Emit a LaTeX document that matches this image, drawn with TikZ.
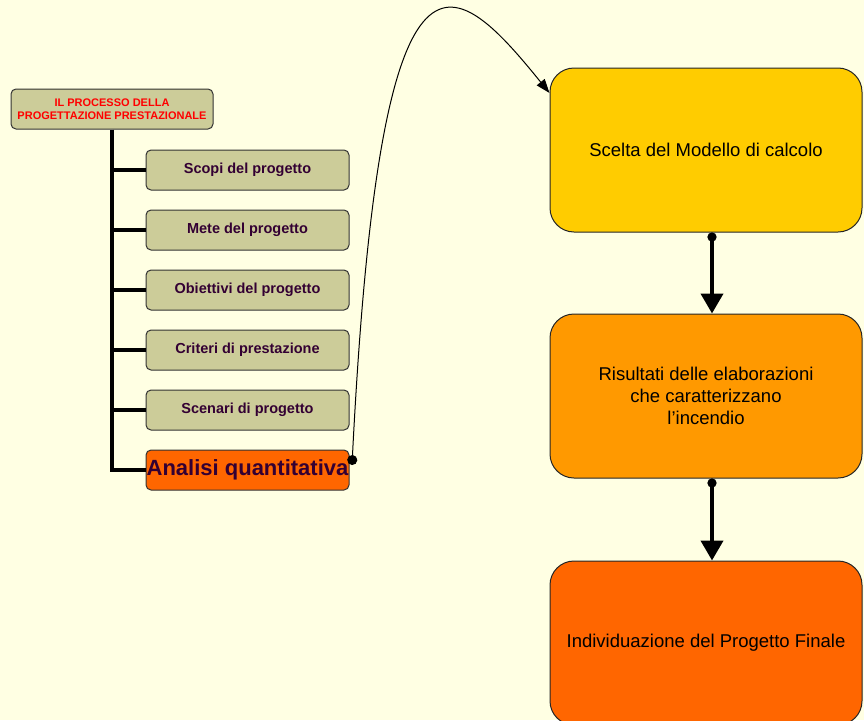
\documentclass[tikz,border=0pt]{standalone}
\usepackage{fontspec}
\setmainfont{Liberation Sans}
\usetikzlibrary{arrows.meta}

\definecolor{fondo}{HTML}{FFFFE3}
\definecolor{kaki}{HTML}{CCCC99}
\definecolor{viola}{HTML}{330033}
\definecolor{giallo}{HTML}{FFCC00}
\definecolor{arancio}{HTML}{FF9900}
\definecolor{rosso}{HTML}{FF6600}

\tikzset{
  voce/.style={draw=black!80, line width=1pt, rounded corners=5pt, fill=kaki,
    minimum width=203pt, minimum height=40pt, inner sep=0pt,
    font=\fontsize{14.5}{16}\selectfont\bfseries, text=viola},
  fase/.style={draw=black!85, line width=1pt, rounded corners=24pt,
    minimum width=312pt, minimum height=164pt, align=center,
    font=\fontsize{18.5}{22}\selectfont},
  ramo/.style={line width=4pt},
  freccia/.style={line width=4pt, {Circle[length=9pt]}-{Triangle[width=22pt,length=20pt]}},
}

\begin{document}
\begin{tikzpicture}[x=1pt, y=-1pt]
	\fill [fondo] (0,0) rectangle (864,720);
	\useasboundingbox (0,0) rectangle (864,720);
	%% albero di sinistra
	\node [voce, minimum width=202pt, font=\fontsize{11}{13}\selectfont\bfseries, text=red, align=center] (titolo) at (112,109) {IL PROCESSO DELLA\\PROGETTAZIONE PRESTAZIONALE};
	\node [voce] (scopi) at (247.5,170) {Scopi del progetto};
	\node [voce] (mete) at (247.5,230) {Mete del progetto};
	\node [voce] (obiettivi) at (247.5,290) {Obiettivi del progetto};
	\node [voce] (criteri) at (247.5,350) {Criteri di prestazione};
	\node [voce] (scenari) at (247.5,410) {Scenari di progetto};
	\node [voce, fill=rosso, font=\fontsize{22}{24}\selectfont\bfseries] (analisi) at (247.5,470) {Analisi quantitativa};
	\draw [ramo] (titolo.south) |- (analisi.west);
	\foreach \v in {scopi,mete,obiettivi,criteri,scenari}
		\draw [ramo] (titolo.south |- \v.west) -- (\v.west);
	%% colonna di destra
	\node [fase, fill=giallo] (scelta) at (706,150) {Scelta del Modello di calcolo};
	\node [fase, fill=arancio] (risultati) at (706,396) {Risultati delle elaborazioni\\che caratterizzano\\l’incendio};
	\node [fase, fill=rosso] (progetto) at (706,643) {Individuazione del Progetto Finale};
	\draw [freccia] (scelta.south -| 712,0) -- (risultati.north -| 712,0);
	\draw [freccia] (risultati.south -| 712,0) -- (progetto.north -| 712,0);
	\coordinate (uscita) at (352,465);
	\draw [line width=1pt, {Circle[length=10pt]}-{Triangle[width=10pt,length=14pt]}] (uscita) .. controls (380,-90) and (450,-30) .. (scelta.north west |- 0,93);
\end{tikzpicture}
\end{document}
